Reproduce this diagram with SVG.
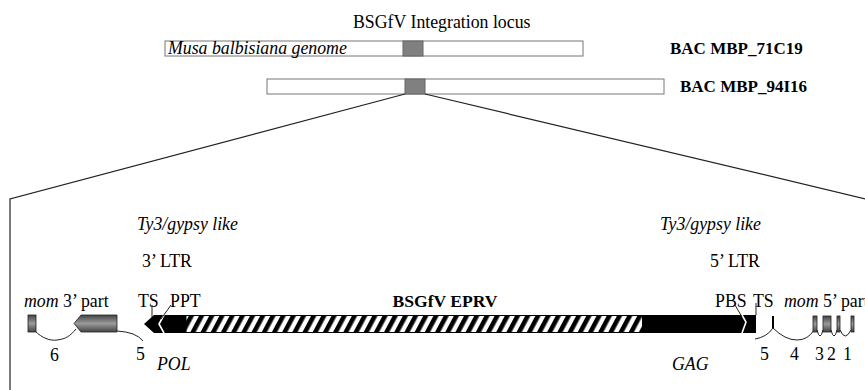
<svg xmlns="http://www.w3.org/2000/svg" width="865" height="390" viewBox="0 0 865 390">
<style>
text{font-family:"Liberation Serif","Times New Roman",serif;font-size:17.8px;fill:#000}
.it{font-style:italic}
.b{font-weight:bold;font-size:17px}
.b2{font-weight:bold;font-size:17.6px}
.bar{fill:#fff;stroke:#777;stroke-width:1}
.loc{fill:#808080;stroke:#666;stroke-width:1}
.ln{fill:none;stroke:#222;stroke-width:1.2}
.thin{fill:none;stroke:#222;stroke-width:1}
.wh{fill:none;stroke:#fff;stroke-width:1.6}
.ex{fill:url(#gg);stroke:#222;stroke-width:0.8}
</style>
<defs>
<linearGradient id="gg" x1="0" y1="0" x2="0" y2="1">
<stop offset="0" stop-color="#444"/>
<stop offset="0.5" stop-color="#9a9a9a"/>
<stop offset="1" stop-color="#444"/>
</linearGradient>
<pattern id="hatch" patternUnits="userSpaceOnUse" width="9" height="20" patternTransform="rotate(28)">
<rect width="9" height="20" fill="#fff"/>
<rect width="4.6" height="20" fill="#000"/>
</pattern>
</defs>

<g id="title"><text x="353" y="28">BSGfV Integration locus</text></g>

<g id="bac1">
<rect class="bar" x="165" y="41" width="418" height="15"/>
<rect class="loc" x="403" y="41" width="20" height="15"/>
<text class="it" x="168" y="54">Musa balbisiana genome</text>
<text class="b" x="670" y="54">BAC MBP_71C19</text>
</g>

<g id="bac2">
<rect class="bar" x="267" y="79" width="397" height="15"/>
<rect class="loc" x="405" y="79" width="20" height="15"/>
<text class="b" x="680" y="92">BAC MBP_94I16</text>
</g>

<g id="connectors">
<polyline class="ln" points="405,94 10,199 10,390"/>
<line class="ln" x1="425" y1="94" x2="866" y2="199"/>
</g>

<g id="labels">
<text class="it" x="137" y="230">Ty3/gypsy like</text>
<text class="it" x="660" y="230">Ty3/gypsy like</text>
<text x="142" y="267">3’ LTR</text>
<text x="710" y="267">5’ LTR</text>
</g>

<g id="mom3">
<text x="24" y="307"><tspan class="it">mom</tspan> 3’ part</text>
<rect class="ex" x="28" y="315" width="8" height="17"/>
<polygon class="ex" points="74,323.5 81,315 117,315 117,332 81,332"/>
<path class="thin" d="M35,331 C42,338 50,341 57,340 C66,339 70,336 76,329"/>
<path class="thin" d="M117,331 Q136,332 143,341"/>
<text x="50" y="361">6</text>
<text x="136" y="360">5</text>
<text class="it" x="157" y="370">POL</text>
</g>

<g id="eprv">
<text class="b2" x="445" y="307" text-anchor="middle">BSGfV EPRV</text>
<rect x="186" y="315.5" width="458" height="17" fill="url(#hatch)" stroke="#000" stroke-width="1"/>
<polygon points="144,324 154,315 186,315 186,333 154,333" fill="#000"/>
<polyline class="wh" points="164,315 159,324 164,333"/>
<rect x="642" y="315" width="114" height="18" fill="#000"/>
<polyline class="wh" points="742,315 746,322 742,333"/>
<text x="138" y="307">TS</text>
<text x="170" y="307">PPT</text>
<line class="thin" x1="152" y1="305" x2="152" y2="317"/>
<line class="thin" x1="171" y1="305" x2="161" y2="319"/>
<text x="715" y="307">PBS</text>
<text x="753" y="307">TS</text>
<line class="thin" x1="735" y1="305" x2="742" y2="317"/>
<line class="thin" x1="756" y1="303" x2="756" y2="315"/>
<text class="it" x="672" y="370">GAG</text>
</g>

<g id="mom5">
<text x="784" y="307"><tspan class="it">mom</tspan> 5’ part</text>
<line x1="773" y1="316" x2="773" y2="329" stroke="#000" stroke-width="2"/>
<path class="thin" d="M755,339 Q767,337 773,328 Q785,340 797,340 Q808,340 814,330"/>
<rect class="ex" x="813" y="316" width="4" height="16"/>
<rect class="ex" x="823" y="316" width="8" height="16"/>
<rect class="ex" x="837" y="316" width="3" height="16"/>
<rect class="ex" x="851" y="316" width="3" height="16"/>
<path class="thin" d="M817,330 Q820,342 823,330 M831,330 Q834,342 837,330 M840,330 Q845,342 851,330"/>
<text x="760" y="360">5</text>
<text x="790" y="360">4</text>
<text x="815" y="360">3</text>
<text x="827" y="360">2</text>
<text x="843" y="360">1</text>
</g>
</svg>
